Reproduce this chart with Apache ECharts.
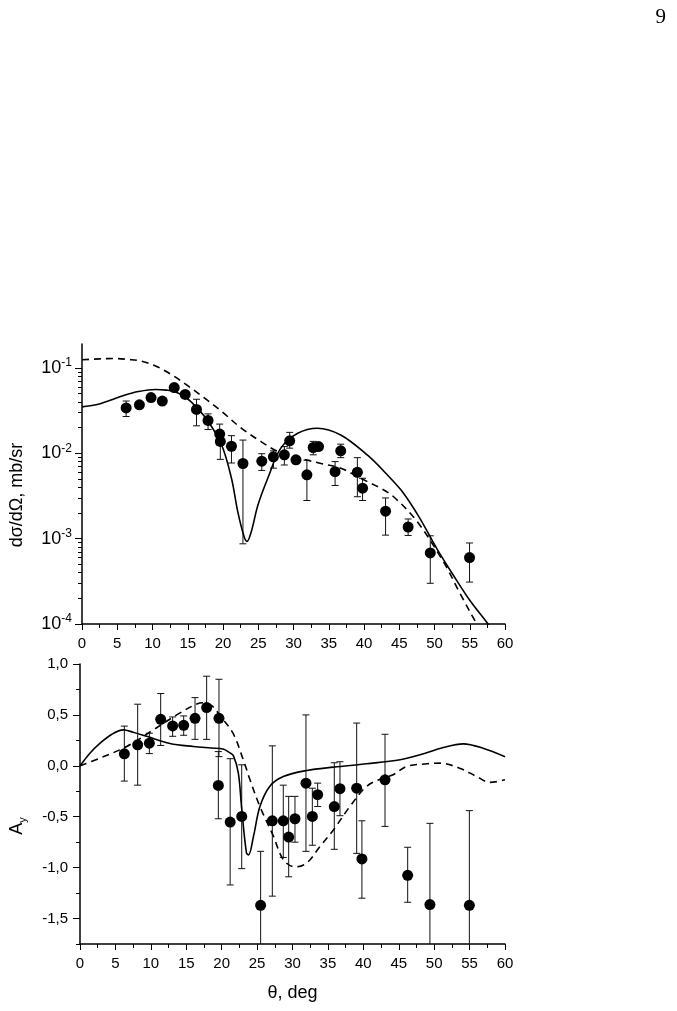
<!DOCTYPE html>
<html>
<head>
<meta charset="utf-8">
<script src="https://cdn.jsdelivr.net/npm/echarts@6/dist/echarts.min.js"></script>
<style>
  html, body { margin: 0; padding: 0; background: #fff; }
  #main { width: 677px; height: 1011px; }
</style>
</head>
<body>
<div id="main"></div>
<script>
// 上图: dσ/dΩ 数据点 (theta, 值, 误差下限, 误差上限)
var xsTheta = [6.26, 8.14, 9.79, 11.39, 13.08, 14.64, 16.24, 17.88, 19.53, 19.62, 21.2, 22.83, 25.5, 27.15, 28.7, 29.46, 30.35, 31.9, 32.8, 33.55, 35.9, 36.7, 39.06, 39.8, 43.06, 46.26, 49.4, 54.97];
var xsVal = [0.034, 0.037, 0.045, 0.041, 0.059, 0.049, 0.0327, 0.0243, 0.0168, 0.0138, 0.0121, 0.0076, 0.0081, 0.0091, 0.0096, 0.014, 0.0084, 0.0056, 0.0117, 0.012, 0.0061, 0.0107, 0.006, 0.0039, 0.0021, 0.00137, 0.00068, 0.0006];
var xsLo = [0.027, null, null, null, null, null, 0.021, 0.019, 0.0125, 0.0085, 0.0077, 0.00087, 0.0063, 0.0067, 0.0073, 0.0115, null, 0.0028, 0.0096, null, 0.0042, 0.0089, 0.0031, 0.0028, 0.0011, 0.00109, 0.0003, 0.00031];
var xsHi = [0.041, null, null, null, null, null, 0.043, 0.029, 0.022, 0.017, 0.0161, 0.0143, 0.0099, 0.0107, 0.012, 0.0176, null, 0.0083, 0.0138, null, 0.008, 0.0128, 0.0089, 0.0051, 0.003, 0.0017, 0.00108, 0.00089];

// 上图理论曲线
var xsSolidX = [0, 2, 4, 6, 8, 10.4, 12, 13.1, 14.6, 16.2, 17.9, 19.8, 21.2, 22.1, 23.0, 23.4, 24.0, 24.95, 26.35, 28.2, 30.6, 33.4, 36.7, 40.5, 43.3, 45.5, 47.8, 50.35, 52.7, 55.0, 57.6, 58.3];
var xsSolidY = [0.035, 0.037, 0.042, 0.048, 0.053, 0.056, 0.055, 0.053, 0.046, 0.035, 0.0236, 0.0126, 0.0051, 0.00206, 0.00105, 0.00093, 0.0012, 0.00247, 0.0051, 0.0115, 0.0172, 0.0197, 0.0164, 0.0095, 0.0056, 0.0035, 0.0018, 0.00076, 0.00037, 0.00019, 0.0001, 0.000082];
var xsDashX = [0, 2.5, 4.7, 6.5, 8.5, 10.5, 12.7, 15, 17.4, 19.8, 22.6, 25.4, 27.8, 31.05, 33.9, 36.7, 39.5, 42.35, 44.2, 47.5, 51.3, 53.6, 56.0, 57.2];
var xsDashY = [0.125, 0.128, 0.129, 0.126, 0.12, 0.105, 0.0835, 0.062, 0.0443, 0.031, 0.0197, 0.0137, 0.0105, 0.0087, 0.0076, 0.0067, 0.0051, 0.0039, 0.0031, 0.0016, 0.00053, 0.00023, 0.0001, 0.00007];

// 下图: A_y 数据点
var ayTheta = [6.26, 8.14, 9.79, 11.39, 13.08, 14.64, 16.24, 17.88, 19.62, 19.53, 21.2, 22.83, 25.5, 27.15, 28.7, 29.46, 30.35, 31.9, 32.8, 33.55, 35.9, 36.7, 39.06, 39.8, 43.06, 46.26, 49.4, 54.97];
var ayVal = [0.118, 0.206, 0.222, 0.457, 0.392, 0.398, 0.467, 0.572, 0.467, -0.193, -0.552, -0.497, -1.37, -0.54, -0.54, -0.70, -0.52, -0.17, -0.497, -0.284, -0.40, -0.225, -0.22, -0.915, -0.137, -1.075, -1.363, -1.37];
var ayLo = [-0.15, -0.19, 0.12, 0.2, 0.29, 0.30, 0.26, 0.26, 0.09, -0.52, -1.17, -1.01, -2.0, -1.28, -0.9, -1.09, -0.75, -0.84, -0.78, -0.4, -0.82, -0.49, -0.86, -1.30, -0.595, -1.34, -2.0, -2.0];
var ayHi = [0.39, 0.605, 0.32, 0.71, 0.48, 0.49, 0.67, 0.88, 0.85, 0.14, 0.07, 0.01, -0.84, 0.196, -0.19, -0.3, -0.3, 0.5, -0.22, -0.17, 0.03, 0.04, 0.42, -0.54, 0.31, -0.80, -0.565, -0.44];

// 下图理论曲线
var aySolidX = [0, 1.4, 2.8, 4.5, 6.1, 7.5, 9.4, 12.7, 16, 18.5, 20.2, 21.1, 21.65, 22.35, 22.8, 23.5, 23.8, 24.5, 25.4, 26.8, 28.7, 32, 35.8, 40.5, 45.2, 48, 51.3, 54.1, 56.9, 60];
var aySolidY = [0, 0.124, 0.22, 0.31, 0.353, 0.33, 0.29, 0.22, 0.19, 0.175, 0.165, 0.13, 0.1, -0.07, -0.40, -0.856, -0.875, -0.69, -0.40, -0.2, -0.105, -0.046, -0.013, 0.02, 0.06, 0.108, 0.18, 0.216, 0.173, 0.09];
var ayDashX = [0, 2.8, 6.6, 10.35, 13.65, 16.5, 17.5, 18.6, 19.8, 21.6, 23.05, 24.0, 25.4, 27.3, 28.7, 30.35, 32, 33.9, 35.8, 38.1, 40.5, 42.8, 44.2, 46.1, 49, 50.8, 53.6, 56, 57.9, 60];
var ayDashY = [0, 0.075, 0.19, 0.353, 0.5, 0.608, 0.62, 0.59, 0.49, 0.32, 0.06, -0.137, -0.4, -0.69, -0.92, -0.993, -0.955, -0.79, -0.627, -0.4, -0.2, -0.12, -0.088, -0.006, 0.02, 0.026, -0.023, -0.105, -0.163, -0.137];

// 刻度
var logMajor = [1e-4, 1e-3, 1e-2, 1e-1];
var logMinor = [];
for (var d = -4; d <= -2; d++) {
    for (var k = 2; k <= 9; k++) {
        logMinor.push(+(k * Math.pow(10, d)).toPrecision(3));
    }
}
var ayMajor = [-1.5, -1.0, -0.5, 0.0, 0.5, 1.0];
var ayMinor = [-1.75, -1.25, -0.75, -0.25, 0.25, 0.75];

function zip(a, b) {
    var out = [];
    for (var i = 0; i < a.length; i++) out.push([a[i], b[i]]);
    return out;
}
function zip4(a, b, c, e) {
    var out = [];
    for (var i = 0; i < a.length; i++) {
        if (c[i] == null || e[i] == null) continue;
        out.push([a[i], c[i], e[i]]);
    }
    return out;
}

// 误差棒
function errBar(params, api) {
    var x = api.value(0), lo = api.value(1), hi = api.value(2);
    var p1 = api.coord([x, hi]);
    var p2 = api.coord([x, lo]);
    var w = 3.5;
    var st = { stroke: '#111', lineWidth: 1 };
    return {
        type: 'group',
        children: [
            { type: 'line', shape: { x1: p1[0], y1: p1[1], x2: p2[0], y2: p2[1] }, style: st },
            { type: 'line', shape: { x1: p1[0] - w, y1: p1[1], x2: p1[0] + w, y2: p1[1] }, style: st },
            { type: 'line', shape: { x1: p2[0] - w, y1: p2[1], x2: p2[0] + w, y2: p2[1] }, style: st }
        ]
    };
}

var font = 'Liberation Sans, Arial, sans-serif';

function xAxisCfg(gridIndex, name) {
    return {
        type: 'value', gridIndex: gridIndex, min: 0, max: 60, interval: 5,
        name: name, nameLocation: 'middle', nameGap: 40,
        nameTextStyle: { fontFamily: font, fontSize: 18, color: '#000' },
        axisLine: { onZero: false, lineStyle: { color: '#000', width: 1.5 } },
        axisTick: { show: true, inside: false, length: 6, lineStyle: { color: '#000', width: 1 } },
        minorTick: { show: true, splitNumber: 2, length: 4, lineStyle: { color: '#000', width: 1 } },
        axisLabel: { fontFamily: font, fontSize: 15, color: '#000', margin: 12 },
        splitLine: { show: false }
    };
}

var myChart = echarts.init(document.getElementById('main'));
var option = {
    animation: false,
    backgroundColor: '#fff',
    title: {
        text: '9', right: 6, top: 2,
        textStyle: { fontFamily: 'Liberation Serif, DejaVu Serif, serif', fontSize: 21, fontWeight: 'normal', color: '#000' }
    },
    grid: [
        { left: 80, top: 344, width: 425, height: 280 },
        { left: 80, top: 664, width: 425, height: 280 }
    ],
    xAxis: [
        xAxisCfg(0, ''),
        xAxisCfg(1, 'θ, deg')
    ],
    yAxis: [
        {
            type: 'log', gridIndex: 0, logBase: 10, min: 1e-4, max: 0.191, position: 'left',
            name: 'dσ/dΩ, mb/sr', nameLocation: 'middle', nameGap: 56, nameRotate: 90,
            nameTextStyle: { fontFamily: font, fontSize: 18, color: '#000', padding: [0, 22, 0, 0] },
            axisLine: { show: true, lineStyle: { color: '#000', width: 1.5 } },
            axisTick: { show: true, length: 7, customValues: logMajor, lineStyle: { color: '#000', width: 1 } },
            axisLabel: {
                customValues: logMajor, margin: 10,
                formatter: function (v) {
                    var e = Math.round(Math.log(v) / Math.LN10);
                    return '{b|10}{s|' + e + '}';
                },
                rich: {
                    b: { fontFamily: font, fontSize: 18, color: '#000', lineHeight: 22 },
                    s: { fontFamily: font, fontSize: 12, color: '#000', lineHeight: 12, verticalAlign: 'top' }
                }
            },
            splitLine: { show: false }
        },
        {
            type: 'log', gridIndex: 0, logBase: 10, min: 1e-4, max: 0.191, position: 'left',
            axisLine: { show: false },
            axisTick: { show: true, length: 4, customValues: logMinor, lineStyle: { color: '#000', width: 1 } },
            axisLabel: { show: false },
            splitLine: { show: false }
        },
        {
            type: 'value', gridIndex: 1, min: -1.75, max: 1.0, position: 'left',
            name: '{a|A}{s|y}', nameLocation: 'middle', nameGap: 52, nameRotate: 90,
            nameTextStyle: {
                padding: [0, 44, 0, 0],
                rich: {
                    a: { fontFamily: font, fontSize: 18, color: '#000', lineHeight: 22 },
                    s: { fontFamily: font, fontSize: 11, color: '#000', lineHeight: 11, verticalAlign: 'bottom' }
                }
            },
            axisLine: { show: true, onZero: false, lineStyle: { color: '#000', width: 1.5 } },
            axisTick: { show: true, length: 7, customValues: ayMajor, lineStyle: { color: '#000', width: 1 } },
            axisLabel: {
                customValues: ayMajor, margin: 12, fontFamily: font, fontSize: 15, color: '#000',
                formatter: function (v) { return v.toFixed(1).replace('.', ','); }
            },
            splitLine: { show: false }
        },
        {
            type: 'value', gridIndex: 1, min: -1.75, max: 1.0, position: 'left',
            axisLine: { show: false },
            axisTick: { show: true, length: 4, customValues: ayMinor, lineStyle: { color: '#000', width: 1 } },
            axisLabel: { show: false },
            splitLine: { show: false }
        }
    ],
    series: [
        {
            type: 'line', xAxisIndex: 0, yAxisIndex: 0, data: zip(xsSolidX, xsSolidY),
            showSymbol: false, smooth: 0.35, clip: true,
            lineStyle: { color: '#000', width: 1.6, type: 'solid' }
        },
        {
            type: 'line', xAxisIndex: 0, yAxisIndex: 0, data: zip(xsDashX, xsDashY),
            showSymbol: false, smooth: 0.35, clip: true,
            lineStyle: { color: '#000', width: 1.6, type: [7, 5] }
        },
        {
            type: 'custom', xAxisIndex: 0, yAxisIndex: 0, renderItem: errBar, clip: true,
            encode: { x: 0, y: [1, 2] }, data: zip4(xsTheta, xsVal, xsLo, xsHi), z: 3
        },
        {
            type: 'scatter', xAxisIndex: 0, yAxisIndex: 0, data: zip(xsTheta, xsVal),
            symbol: 'circle', symbolSize: 11, itemStyle: { color: '#000', opacity: 1 }, z: 4
        },
        {
            type: 'line', xAxisIndex: 1, yAxisIndex: 2, data: zip(aySolidX, aySolidY),
            showSymbol: false, smooth: 0.35, clip: true,
            lineStyle: { color: '#000', width: 1.6, type: 'solid' }
        },
        {
            type: 'line', xAxisIndex: 1, yAxisIndex: 2, data: zip(ayDashX, ayDashY),
            showSymbol: false, smooth: 0.35, clip: true,
            lineStyle: { color: '#000', width: 1.6, type: [7, 5] }
        },
        {
            type: 'custom', xAxisIndex: 1, yAxisIndex: 2, renderItem: errBar, clip: true,
            encode: { x: 0, y: [1, 2] }, data: zip4(ayTheta, ayVal, ayLo, ayHi), z: 3
        },
        {
            type: 'scatter', xAxisIndex: 1, yAxisIndex: 2, data: zip(ayTheta, ayVal),
            symbol: 'circle', symbolSize: 11, itemStyle: { color: '#000', opacity: 1 }, z: 4
        }
    ]
};
myChart.setOption(option);
</script>
</body>
</html>
